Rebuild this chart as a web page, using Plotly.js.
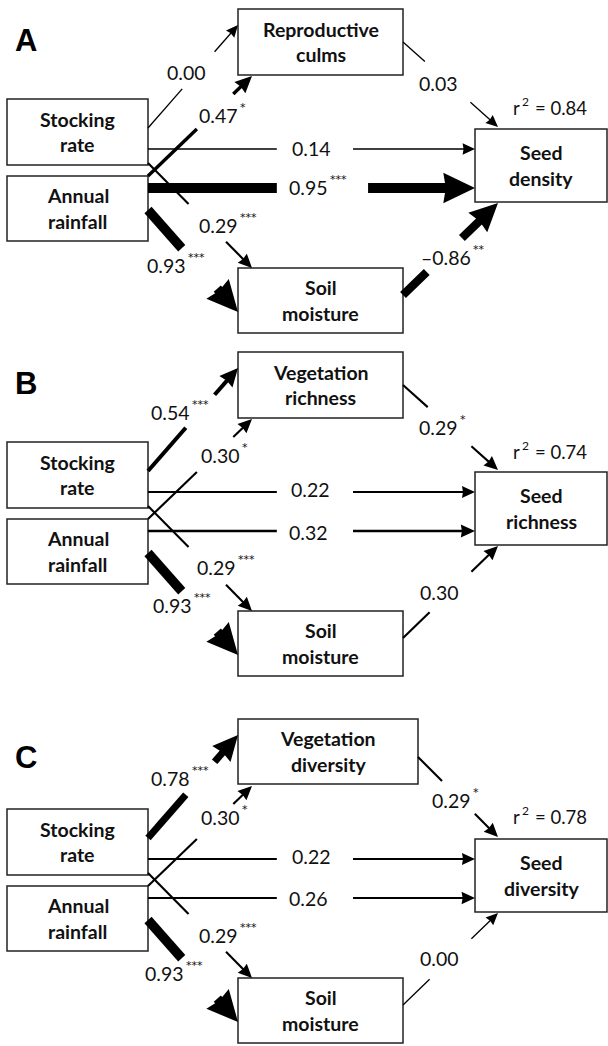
<!DOCTYPE html>
<html><head><meta charset="utf-8">
<script src="https://cdn.plot.ly/plotly-3.0.1.min.js"></script>
<style>html,body{margin:0;padding:0;background:#fff}#chart{width:608px;height:1046px}</style>
</head><body><div id="chart"></div>
<script>
// ---------------- DATA ----------------
const panelLetters = ['A', 'B', 'C'];
const stockingLabel = ['Stocking', 'rate'];
const rainfallLabel = ['Annual', 'rainfall'];
const soilLabel = ['Soil', 'moisture'];
const mediatorLabels = [['Reproductive', 'culms'], ['Vegetation', 'richness'], ['Vegetation', 'diversity']];
const responseLabels = [['Seed', 'density'], ['Seed', 'richness'], ['Seed', 'diversity']];
const r2Values = [0.84, 0.74, 0.78];
// path order: Stocking→Mediator, Rainfall→Mediator, Stocking→Seed, Rainfall→Seed,
//             Stocking→Soil, Rainfall→Soil, Mediator→Seed, Soil→Seed
const coefA = [0.00, 0.47, 0.14, 0.95, 0.29, 0.93, 0.03, -0.86];
const sigA  = ['', '*', '', '***', '***', '***', '', '**'];
const coefB = [0.54, 0.30, 0.22, 0.32, 0.29, 0.93, 0.29, 0.30];
const sigB  = ['***', '*', '', '', '***', '***', '*', ''];
const coefC = [0.78, 0.30, 0.22, 0.26, 0.29, 0.93, 0.29, 0.00];
const sigC  = ['***', '*', '', '', '***', '***', '*', ''];

// ---------------- LAYOUT GEOMETRY (pixels, panel-relative) ----------------
const coefs = [coefA, coefB, coefC];
const sigs = [sigA, sigB, sigC];
const panelOffset = [0, 343, 710];
const letterY = [40.5, 40.5, 47.5];
const boxSR = [7, 99, 148, 165];
const boxAR = [7, 176, 148, 241];
const boxMed = [[238, 9, 403, 75], [238, 9, 403, 75], [238, 9, 418, 74]];
const boxSeed = [475, 129, 607, 202];
const boxSoil = [238, 268, 403, 333];
const edgeStart = [[148, 128], [148, 176], [148, 149], [148, 188], [148, 163], [148, 210], null, [403, 295]];
const edgeTip = [[238, 25], [252, 76], [475, 149], [475, 188], [252, 268], [238, 312], [498, 127], [498, 203]];
const edgeGap = [
  [[0.38, 0.74], [0.47, 0.82], [0.394, 0.627], [0.394, 0.673], [0.39, 0.75], [0.375, 0.77], [0.23, 0.71], [0.25, 0.62]],
  [[0.42, 0.74], [0.47, 0.82], [0.394, 0.627], [0.394, 0.627], [0.39, 0.75], [0.375, 0.77], [0.26, 0.72], [0.28, 0.72]],
  [[0.42, 0.74], [0.47, 0.82], [0.394, 0.627], [0.394, 0.627], [0.39, 0.75], [0.375, 0.77], [0.30, 0.71], [0.28, 0.72]]
];
// label anchor: right edge of the number, vertical centre
const labelPos = [
  [[208, 72], [240, 115], [333, 148], [330, 187], [240, 225], [188, 265], [460, 83], [473, 257]],
  [[192, 69], [242, 112], [332, 146], [330, 189], [238, 224], [194, 262], [460, 84], [461, 249]],
  [[192, 68], [242, 107], [333, 146], [330, 188], [240, 225], [186, 263], [473, 90], [461, 248]]
];
const r2Pos = [[522, 108], [522, 109], [522, 107]];

const FONT = 'Lato, "Open Sans", sans-serif';
const INK = '#111';
const shapes = [];
const annotations = [];

function lineW(c) { return 1.3 + 9.5 * c * c; }
function fmt(c) { return (c < 0 ? '\u2013' : '') + Math.abs(c).toFixed(2); }
function txt(x, y, text, xanchor, size, extra) {
  annotations.push(Object.assign({x: x, y: y, xref: 'x', yref: 'y', text: text, showarrow: false,
    xanchor: xanchor, yanchor: 'middle', font: {family: FONT, size: size, color: INK}}, extra || {}));
}

function addBox(r, dy, lines) {
  shapes.push({type: 'rect', xref: 'x', yref: 'y', x0: r[0], y0: r[1] + dy, x1: r[2], y1: r[3] + dy,
    line: {color: '#222', width: 1.5}, fillcolor: 'rgba(0,0,0,0)', layer: 'above'});
  const cx = (r[0] + r[2]) / 2, cy = (r[1] + r[3]) / 2 + dy;
  lines.forEach((t, i) => txt(cx, cy + (i - (lines.length - 1) / 2) * 25.5, t, 'center', 19.5,
    {font: {family: FONT, size: 19.5, color: INK, weight: 700}}));
}

function seg(p, q, w) {
  shapes.push({type: 'line', xref: 'x', yref: 'y', x0: p[0], y0: p[1], x1: q[0], y1: q[1],
    line: {color: '#000', width: w}, layer: 'above'});
}

function addEdge(s, t, gap, w, dy) {
  const dx = t[0] - s[0], dyy = t[1] - s[1];
  const len = Math.hypot(dx, dyy);
  const u = [dx / len, dyy / len];
  const L = 9 + 2.3 * w, Hh = 4 + 1.15 * w;
  const tBase = 1 - (L * 0.8) / len;
  const P = f => [s[0] + dx * f, s[1] + dyy * f + dy];
  seg(P(0), P(gap[0]), w);
  if (gap[1] < tBase) seg(P(gap[1]), P(tBase), w);
  const tip = [t[0], t[1] + dy];
  const b = [tip[0] - u[0] * L, tip[1] - u[1] * L];
  const n = [-u[1], u[0]];
  const p1 = [b[0] + n[0] * Hh, b[1] + n[1] * Hh];
  const p2 = [b[0] - n[0] * Hh, b[1] - n[1] * Hh];
  const pn = [tip[0] - u[0] * L * 0.92, tip[1] - u[1] * L * 0.92];
  shapes.push({type: 'path', xref: 'x', yref: 'y',
    path: `M ${tip[0]} ${tip[1]} L ${p1[0]} ${p1[1]} L ${pn[0]} ${pn[1]} L ${p2[0]} ${p2[1]} Z`,
    fillcolor: '#000', line: {width: 0}, layer: 'above'});
}

panelLetters.forEach((letter, k) => {
  const dy = panelOffset[k];
  txt(13, letterY[k] + dy, letter, 'left', 31,
    {font: {family: '"Liberation Sans", Arial, sans-serif', size: 31, color: '#000', weight: 700}});
  addBox(boxSR, dy, stockingLabel);
  addBox(boxAR, dy, rainfallLabel);
  addBox(boxMed[k], dy, mediatorLabels[k]);
  addBox(boxSeed, dy, responseLabels[k]);
  addBox(boxSoil, dy, soilLabel);
  coefs[k].forEach((c, i) => {
    const s = i === 6 ? [boxMed[k][2], k === 2 ? 47 : 42] : edgeStart[i];
    addEdge(s, edgeTip[i], edgeGap[k][i], lineW(c), dy);
    const lp = labelPos[k][i];
    txt(lp[0], lp[1] + dy, fmt(c), 'right', 19.5);
    if (sigs[k][i]) txt(lp[0] - 2, lp[1] + dy - 8, sigs[k][i], 'left', 11,
      {font: {family: '"DejaVu Sans", sans-serif', size: 11, color: INK}});
  });
  const rp = r2Pos[k];
  txt(rp[0], rp[1] + dy, 'r', 'right', 18.5);
  txt(rp[0] - 2, rp[1] + dy - 7, '2', 'left', 12);
  txt(rp[0] + 11, rp[1] + dy, '= ' + r2Values[k].toFixed(2), 'left', 18.5);
});

const layout = {
  width: 608, height: 1046,
  margin: {l: 0, r: 0, t: 0, b: 0},
  paper_bgcolor: '#fff', plot_bgcolor: '#fff',
  showlegend: false,
  xaxis: {range: [0, 608], visible: false, fixedrange: true},
  yaxis: {range: [1046, 0], visible: false, fixedrange: true},
  shapes: shapes,
  annotations: annotations
};
Plotly.newPlot('chart', [{x: [], y: [], type: 'scatter', mode: 'markers', hoverinfo: 'skip'}], layout, {staticPlot: true});
</script>
</body></html>
